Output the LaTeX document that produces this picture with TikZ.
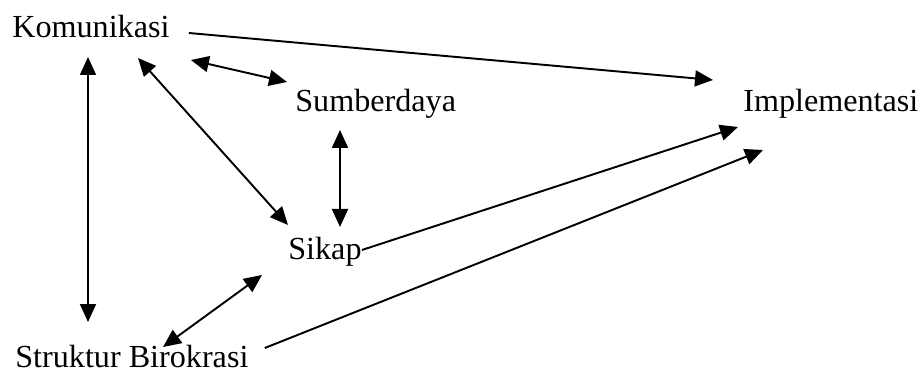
\documentclass[tikz,border=0pt]{standalone}
\usepackage{fontspec}
\setmainfont{Liberation Serif}
\usetikzlibrary{arrows.meta,calc}
\begin{document}
\begin{tikzpicture}[x=0.02cm,y=-0.02cm,
    lbl/.style={inner sep=0pt,anchor=base west,font=\fontsize{18.3}{22}\selectfont},
    panah/.style={line width=1.1pt,-{Triangle[length=0.36cm,width=0.32cm]}},
    duapanah/.style={line width=1.1pt,{Triangle[length=0.36cm,width=0.32cm]}-{Triangle[length=0.36cm,width=0.32cm]}}]
  \useasboundingbox (0,0) rectangle (923,374);
  \node[lbl] (kom) at (12,38) {Komunikasi};
  \node[lbl] (sum) at (295,112) {Sumberdaya};
  \node[lbl] (imp) at (743,112) {Implementasi};
  \node[lbl] (sik) at (288,260) {Sikap};
  \node[lbl] (str) at (15,368) {Struktur Birokrasi};
  \draw[panah] ($(kom.base east)+(19,-5)$) -- ($(imp.base west)+(-30,-32)$);
  \draw[duapanah] ($(kom.base east)+(21,22)$) -- ($(sum.base west)+(-8,-30)$);
  \draw[duapanah] ($(kom.base west)+(126,20)$) -- ($(sik.base west)+(0,-35)$);
  \draw[duapanah] ($(kom.base west)+(76,19)$) -- ($(str.base west)+(73,-46)$);
  \draw[duapanah] ($(sum.base west)+(45,18)$) -- ($(sik.base west)+(52,-33)$);
  \draw[panah] ($(sik.base east)+(0,-10)$) -- ($(imp.base west)+(-5,15)$);
  \draw[duapanah] ($(str.base west)+(148,-21)$) -- ($(sik.base west)+(-26,15)$);
  \draw[panah] ($(str.base east)+(16,-20)$) -- ($(imp.base west)+(20,38)$);
\end{tikzpicture}
\end{document}
